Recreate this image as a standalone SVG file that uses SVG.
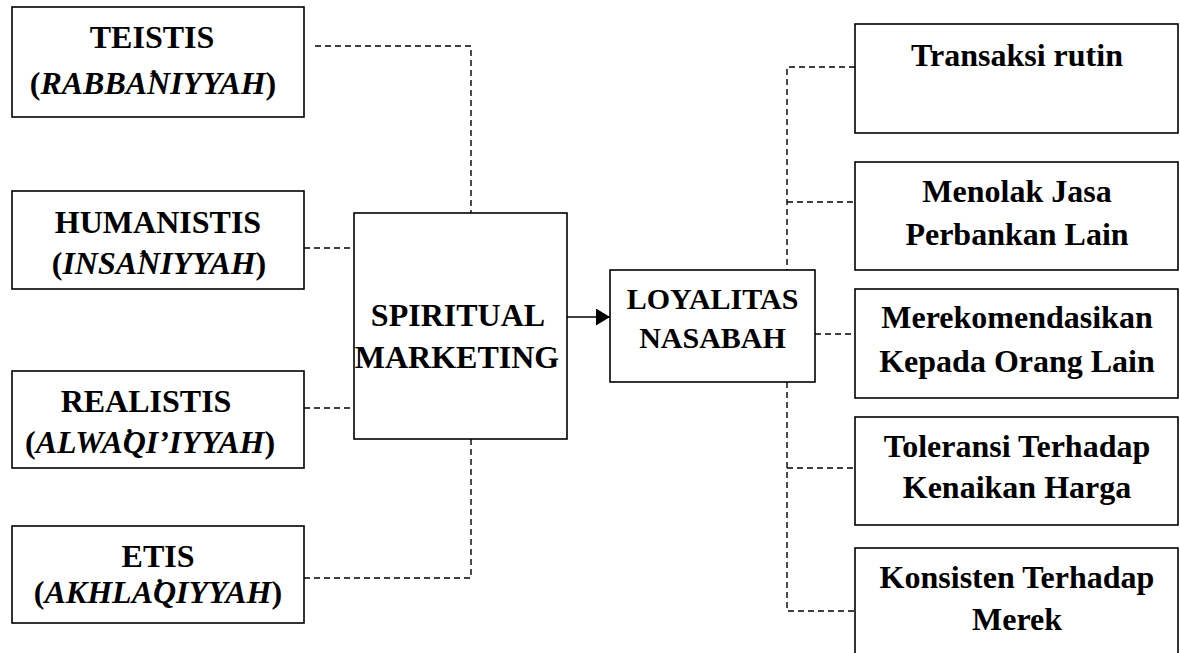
<svg xmlns="http://www.w3.org/2000/svg" width="1180" height="653" viewBox="0 0 1180 653">
<style>
  .box { fill: #fff; stroke: #000; stroke-width: 1.6; }
  .t { font-family: "Liberation Serif", "Times New Roman", "DejaVu Serif", serif; font-weight: bold; font-size: 32px; fill: #000; text-anchor: middle; }
  .c { font-size: 30px; }
  .i { font-style: italic; }
  .dash { fill: none; stroke: #000; stroke-width: 1.4; stroke-dasharray: 6 4; }
  .solid { fill: none; stroke: #000; stroke-width: 1.6; }
</style>
<defs>
  <marker id="arrow" viewBox="0 0 14 17" refX="14" refY="8.5" markerWidth="14" markerHeight="17" markerUnits="userSpaceOnUse" orient="auto">
    <path d="M0,0 L14,8.5 L0,17 Z" fill="#000"/>
  </marker>
</defs>
<rect width="1180" height="653" fill="#fff"/>

<g id="connectors">
  <polyline class="dash" points="315,46 471,46 471,213"/>
  <line class="dash" x1="304" y1="248" x2="354" y2="248"/>
  <line class="dash" x1="304" y1="408" x2="354" y2="408"/>
  <polyline class="dash" points="304,578 471,578 471,439"/>
  <line class="solid" x1="567" y1="317" x2="610" y2="317" marker-end="url(#arrow)"/>
  <polyline class="dash" points="855,67 787,67 787,270"/>
  <line class="dash" x1="787" y1="202" x2="855" y2="202"/>
  <line class="dash" x1="815" y1="334" x2="855" y2="334"/>
  <polyline class="dash" points="787,382 787,611 855,611"/>
  <line class="dash" x1="787" y1="468" x2="855" y2="468"/>
</g>

<g id="teistis">
  <rect class="box" x="12" y="7" width="292" height="110"/>
  <text class="t" x="152" y="48">TEISTIS</text>
  <text class="t" x="153" y="94">(<tspan class="i">RABBA&#x315;NIYYAH</tspan>)</text>
</g>
<g id="humanistis">
  <rect class="box" x="12" y="191" width="292" height="98"/>
  <text class="t" x="158" y="233">HUMANISTIS</text>
  <text class="t" x="159" y="274">(<tspan class="i">INSA&#x315;NIYYAH</tspan>)</text>
</g>
<g id="realistis">
  <rect class="box" x="12" y="371" width="292" height="97"/>
  <text class="t" x="146" y="412">REALISTIS</text>
  <text class="t" x="150" y="453">(<tspan class="i">ALWA&#x315;QI’IYYAH</tspan>)</text>
</g>
<g id="etis">
  <rect class="box" x="12" y="526" width="292" height="97"/>
  <text class="t" x="158" y="567">ETIS</text>
  <text class="t" x="158" y="603">(<tspan class="i">AKHLA&#x315;QIYYAH</tspan>)</text>
</g>

<g id="spiritual-marketing">
  <rect class="box" x="354" y="213" width="213" height="226"/>
  <text class="t" x="458" y="326">SPIRITUAL</text>
  <text class="t" x="457" y="368">MARKETING</text>
</g>
<g id="loyalitas-nasabah">
  <rect class="box" x="610" y="270" width="205" height="112"/>
  <text class="t c" x="712.5" y="309">LOYALITAS</text>
  <text class="t c" x="712.5" y="348">NASABAH</text>
</g>

<g id="transaksi-rutin">
  <rect class="box" x="855" y="24" width="323" height="109"/>
  <text class="t" x="1017" y="66">Transaksi rutin</text>
</g>
<g id="menolak-jasa">
  <rect class="box" x="855" y="162" width="323" height="108"/>
  <text class="t" x="1017" y="202">Menolak Jasa</text>
  <text class="t" x="1017" y="245">Perbankan Lain</text>
</g>
<g id="merekomendasikan">
  <rect class="box" x="855" y="289" width="323" height="109"/>
  <text class="t" x="1017" y="328">Merekomendasikan</text>
  <text class="t" x="1017" y="372">Kepada Orang Lain</text>
</g>
<g id="toleransi">
  <rect class="box" x="855" y="417" width="323" height="108"/>
  <text class="t" x="1017" y="457">Toleransi Terhadap</text>
  <text class="t" x="1017" y="498">Kenaikan Harga</text>
</g>
<g id="konsisten">
  <rect class="box" x="855" y="548" width="323" height="115"/>
  <text class="t" x="1017" y="588">Konsisten Terhadap</text>
  <text class="t" x="1017" y="630">Merek</text>
</g>
</svg>
